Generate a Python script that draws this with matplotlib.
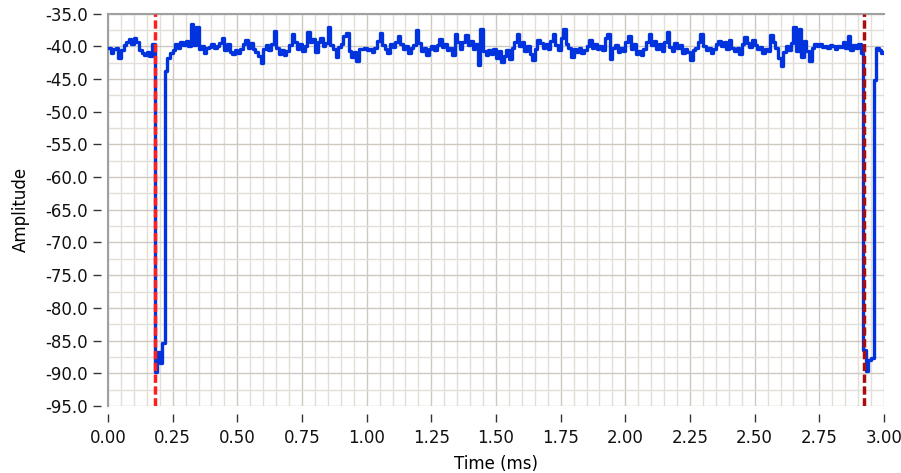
import numpy as np
import matplotlib
matplotlib.use('Agg')
import matplotlib.pyplot as plt
from matplotlib.ticker import MultipleLocator, FuncFormatter

# sample spacing 0.01 ms (rows of 0.1 ms)
dt = 0.01
amp_rows = [
    [-40.3, -41.0, -40.5, -40.2, -41.8, -40.6, -39.8, -39.3, -38.9, -39.6],
    [-38.7, -39.4, -40.6, -41.1, -41.4, -40.9, -41.5, -39.7, -89.8, -86.8],
    [-88.4, -85.3, -43.8, -41.8, -41.0, -40.6, -39.6, -40.2, -39.4, -39.8],
    [-39.2, -40.0, -36.6, -39.8, -37.0, -40.4, -40.0, -41.0, -40.3, -40.1],
    [-39.7, -40.3, -40.0, -39.5, -38.8, -40.6, -39.7, -40.9, -41.2, -40.6],
    [-41.0, -40.5, -39.6, -39.1, -40.2, -39.5, -40.4, -40.9, -41.5, -42.6],
    [-40.4, -39.8, -40.6, -39.6, -37.6, -40.2, -41.2, -40.6, -41.4, -40.7],
    [-39.8, -38.1, -39.3, -40.5, -39.6, -40.8, -39.9, -37.9, -39.3, -38.9],
    [-40.9, -39.4, -38.8, -40.0, -39.5, -37.1, -39.8, -40.4, -41.7, -40.1],
    [-39.7, -38.4, -38.0, -40.7, -41.6, -40.9, -42.2, -40.4, -40.5, -40.3],
    [-40.6, -40.4, -40.9, -40.2, -39.2, -38.0, -39.8, -40.4, -41.0, -39.7],
    [-40.1, -39.4, -38.5, -39.6, -40.5, -39.9, -41.0, -40.2, -39.8, -37.5],
    [-39.5, -40.8, -40.2, -41.4, -40.5, -40.0, -40.6, -39.8, -38.9, -40.1],
    [-39.7, -40.6, -40.2, -41.3, -38.1, -39.4, -40.4, -39.3, -38.3, -39.8],
    [-39.2, -40.5, -39.6, -42.9, -37.3, -40.8, -41.4, -40.6, -41.2, -40.5],
    [-41.8, -40.7, -42.4, -41.5, -40.6, -41.9, -40.2, -39.4, -38.1, -40.0],
    [-39.3, -40.8, -39.9, -41.2, -42.1, -40.4, -39.0, -39.5, -40.3, -39.6],
    [-40.5, -39.2, -38.2, -39.8, -40.6, -38.7, -37.3, -39.6, -40.3, -41.6],
    [-40.4, -40.9, -40.2, -41.1, -40.6, -40.0, -39.1, -40.3, -39.7, -40.4],
    [-39.9, -40.6, -38.8, -38.1, -42.0, -40.3, -39.8, -40.9, -40.2, -40.7],
    [-39.4, -38.5, -40.4, -39.7, -41.2, -40.8, -41.3, -40.5, -39.3, -38.2],
    [-39.8, -39.2, -40.5, -39.6, -40.8, -39.4, -37.9, -40.1, -40.7, -39.5],
    [-40.3, -39.8, -41.0, -40.4, -40.9, -42.1, -40.6, -40.2, -39.4, -38.1],
    [-39.9, -40.6, -40.2, -41.0, -40.5, -39.6, -39.2, -40.0, -39.3, -40.4],
    [-39.1, -40.2, -40.8, -40.3, -41.2, -39.6, -38.6, -39.5, -40.1, -39.0],
    [-39.8, -40.5, -40.1, -41.1, -40.4, -40.7, -38.3, -39.4, -40.2, -41.8],
    [-43.0, -40.9, -39.9, -40.6, -39.5, -37.0, -40.8, -37.4, -41.6, -39.2],
    [-40.7, -42.3, -40.2, -39.7, -40.0, -39.6, -40.1, -40.0, -40.2, -39.8],
    [-40.0, -40.4, -39.9, -40.1, -39.3, -40.2, -38.5, -40.6, -39.8, -40.3],
    [-39.6, -41.0, -86.5, -89.7, -88.0, -87.6, -45.2, -40.3, -40.6, -41.0],
]
amp_last = -40.9

cursor_1 = 0.182
cursor_2 = 2.924

amplitude = np.array([v for row in amp_rows for v in row] + [amp_last])
time = np.arange(len(amplitude)) * dt

fig = plt.figure(figsize=(9.01, 4.73), dpi=100)
ax = fig.add_axes([108 / 901, 1 - 406 / 473, 776 / 901, 392.5 / 473])

ax.plot(time, amplitude, drawstyle='steps-post', color='#0033dd', lw=2.4, zorder=3)
ax.axvline(cursor_1, color='#ff1f1f', lw=2.5, ls=(0, (2.4, 1.0)), zorder=4)
ax.axvline(cursor_2, color='#a80c0c', lw=2.5, ls=(0, (2.4, 1.0)), zorder=4)

ax.set_xlim(0, 3.0)
ax.set_ylim(-95, -35)
ax.xaxis.set_major_locator(MultipleLocator(0.25))
ax.xaxis.set_minor_locator(MultipleLocator(0.05))
ax.yaxis.set_major_locator(MultipleLocator(5))
ax.yaxis.set_minor_locator(MultipleLocator(2.5))
ax.xaxis.set_major_formatter(FuncFormatter(lambda v, p: f"{v:.2f}"))
ax.yaxis.set_major_formatter(FuncFormatter(lambda v, p: f"{v:.1f}"))

ax.grid(which='major', color='#cdc9c0', lw=1.0, zorder=0)
ax.grid(which='minor', color='#e2dfd8', lw=1.0, zorder=0)
ax.set_axisbelow(True)

for s in ['right', 'bottom']:
    ax.spines[s].set_visible(False)
ax.spines['top'].set_color('#a0a0a0')
ax.spines['top'].set_linewidth(1.5)
ax.spines['left'].set_position(('outward', 5))
ax.spines['left'].set_visible(False)
ax.spines['bottom'].set_position(('outward', 6))
ax.axvline(0, color='#a0a0a0', lw=1.5, zorder=2, clip_on=False)

ax.tick_params(which='major', direction='out', length=5.5, width=1.0, color='#333333',
               labelsize=12, labelcolor='#111111')
ax.tick_params(axis='y', pad=4)
ax.tick_params(axis='x', pad=5)
ax.tick_params(which='minor', length=0)

ax.set_xlabel('Time (ms)', fontsize=12)
ax.set_ylabel('Amplitude', fontsize=12)
ax.xaxis.set_label_coords(0.5, -0.125)
ax.yaxis.set_label_coords(-0.101, 0.5)

fig.savefig('out.png', dpi=100)
